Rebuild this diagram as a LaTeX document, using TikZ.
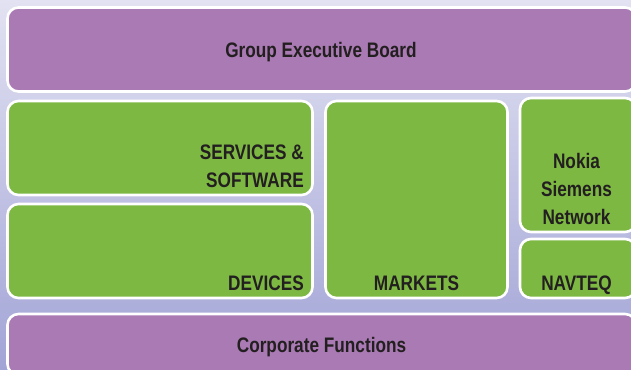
\documentclass[tikz,border=0pt]{standalone}
\usepackage{fontspec}
\setmainfont{Liberation Sans}[FakeStretch=0.82]
\definecolor{boardpurple}{RGB}{169,122,179}
\definecolor{unitgreen}{RGB}{125,184,67}
\definecolor{bgtop}{RGB}{226,226,242}
\definecolor{bgbottom}{RGB}{162,164,214}
\definecolor{labeltext}{RGB}{35,31,32}

\begin{document}
\begin{tikzpicture}[x=1pt,y=-1pt,line join=round,
    unit/.style={draw=white,line width=2.6pt,rounded corners=11pt},
    tag/.style={font=\fontsize{21}{28}\selectfont\bfseries,
        text=labeltext,inner sep=0pt}]
        \useasboundingbox (0,0) rectangle (631,369);
        \clip (0,0) rectangle (631,369);

        % Fondo degradado
        \shade[top color=bgtop,bottom color=bgbottom]
            (0,0) rectangle (631,369);

        %----------------------------------------------------------
        % Bandas de gestión
        \fill[boardpurple,unit] (7.5,7.5) rectangle (636,91.5);
        \fill[boardpurple,unit] (7.5,314) rectangle (636,375);

        % Unidades de negocio
        \fill[unitgreen,unit] (7.5,101) rectangle (312.5,195);
        \fill[unitgreen,unit] (7.5,204) rectangle (312.5,298);
        \fill[unitgreen,unit] (325.5,101) rectangle (507.5,298);
        \fill[unitgreen,unit] (520,98) rectangle (636,232);
        \fill[unitgreen,unit] (520,239) rectangle (636,298);

        %----------------------------------------------------------
        % Rótulos
        \node[tag,anchor=base] (geb) at (321,57) {Group Executive Board};
        \node[tag,anchor=base east,align=right] (sns) at (304,187)
            {SERVICES \&\\SOFTWARE};
        \node[tag,anchor=base east] (dev) at (304,290) {DEVICES};
        \node[tag,anchor=base] (mkt) at (416.5,290) {MARKETS};
        \node[tag,anchor=base,align=center] (nsn) at (576.5,224)
            {Nokia\\Siemens\\Network};
        \node[tag,anchor=base] (nav) at (576.5,290) {NAVTEQ};
        \node[tag,anchor=base] (cf) at (321.5,352) {Corporate Functions};
    \end{tikzpicture}
\end{document}
